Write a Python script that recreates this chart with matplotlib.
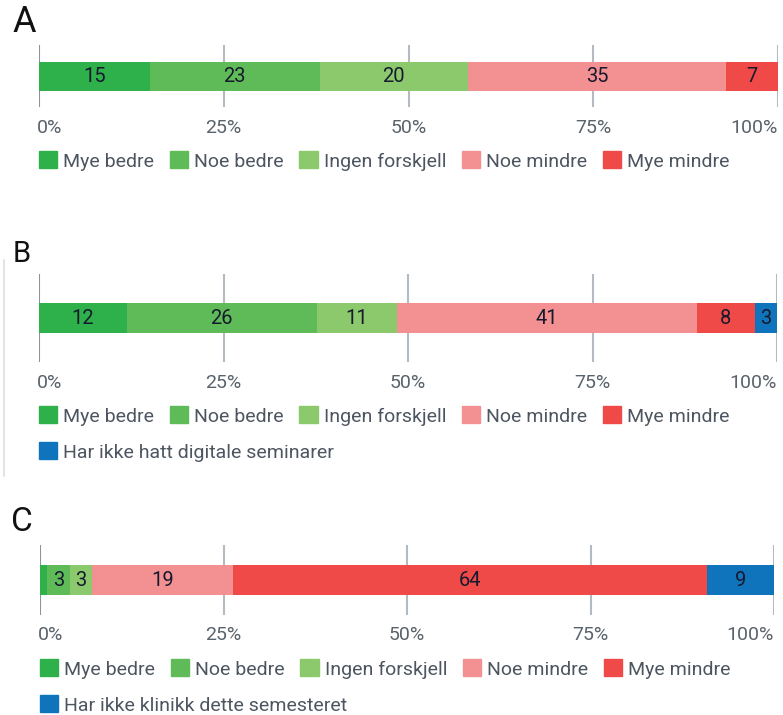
import numpy as np
import matplotlib.pyplot as plt
from matplotlib.patches import Patch
from matplotlib.lines import Line2D

plt.rcParams['font.family'] = ['Roboto', 'DejaVu Sans']

# data
kategorier = ['Mye bedre', 'Noe bedre', 'Ingen forskjell', 'Noe mindre', 'Mye mindre']
farger = ['#2eb04b', '#5fbb57', '#8bc96c', '#f39192', '#ef4a48']
blaa = '#1074bd'

verdier_a = [15, 23, 20, 35, 7]
verdier_b = [12, 26, 11, 41, 8, 3]
verdier_c = [1, 3, 3, 19, 64, 9]
etiketter_c = ['', '3', '3', '19', '64', '9']
ekstra_b = 'Har ikke hatt digitale seminarer'
ekstra_c = 'Har ikke klinikk dette semesteret'

ticks = [0, 25, 50, 75, 100]
tick_labels = ['0%', '25%', '50%', '75%', '100%']

W, H = 783, 715
fig = plt.figure(figsize=(W / 100, H / 100), dpi=100)


def px_axes(x0, x1, y0, y1):
    return fig.add_axes([x0 / W, 1 - y1 / H, (x1 - x0) / W, (y1 - y0) / H])


def panel(ax, verdier, navn, cols, bar_h, labels=None, tick_y=-0.9):
    total = float(sum(verdier))
    andel = np.array(verdier) / total * 100
    left = 0
    for i, (v, a) in enumerate(zip(verdier, andel)):
        ax.barh(0, a, left=left, height=bar_h, color=cols[i], zorder=2)
        txt = str(v) if labels is None else labels[i]
        if txt:
            ax.text(left + a / 2, 0, txt, ha='center', va='center',
                    fontsize=14.5, color='#161a2e', zorder=3)
        left += a
    ax.set_xlim(0, 100)
    ax.set_ylim(-0.5, 0.5)
    for t in ticks:
        ax.axvline(t, color='#8c939b' if t == 0 else '#b3bac2', lw=1.5, zorder=1)
    ax.axis('off')
    for t, lab in zip(ticks, tick_labels):
        ha = 'left' if t == 0 else ('right' if t == 100 else 'center')
        ax.text(t + (-0.3 if t == 0 else 0), tick_y, lab, ha=ha, va='center',
                fontsize=14, color='#5a626b', transform=ax.transData, clip_on=False)
    handles = [Patch(facecolor=c, edgecolor=c, label=n) for n, c in zip(navn, cols)]
    return handles


def legende(ax, handles, y_px):
    x_ax = ax.get_position().x0
    leg = fig.legend(handles=handles, loc='center left',
                     bbox_to_anchor=(x_ax, 1 - y_px / H),
                     ncol=5, frameon=False, fontsize=14, handlelength=0.95,
                     handleheight=0.95, handletextpad=0.3, columnspacing=0.8,
                     labelcolor='#4d5560', borderaxespad=0, borderpad=0)
    return leg


# Panel A
ax_a = px_axes(39, 778, 45, 107)
h_a = panel(ax_a, verdier_a, kategorier, farger, 29 / 62, tick_y=-0.5 - 21 / 62)
legende(ax_a, h_a, 161)
fig.text(12 / W, 1 - 22 / H, 'A', fontsize=26, va='center', ha='left', color='#111111')

# Panel B
ax_b = px_axes(39, 777, 274, 362)
h_b = panel(ax_b, verdier_b, kategorier + [ekstra_b], farger + [blaa], 30 / 88,
            tick_y=-0.5 - 21 / 88)
legende(ax_b, h_b[:5], 416)
legende(ax_b, h_b[5:], 452)
fig.text(13 / W, 1 - 254 / H, 'B', fontsize=21, va='center', ha='left', color='#111111')
fig.add_artist(Line2D([4 / W, 4 / W], [1 - 260 / H, 1 - 476 / H], color='#dde0e4', lw=1.2))

# Panel C
ax_c = px_axes(40, 774, 545, 615)
h_c = panel(ax_c, verdier_c, kategorier + [ekstra_c], farger + [blaa], 30 / 70,
            labels=etiketter_c, tick_y=-0.5 - 20 / 70)
legende(ax_c, h_c[:5], 669)
legende(ax_c, h_c[5:], 705)
fig.text(11 / W, 1 - 522 / H, 'C', fontsize=24, va='center', ha='left', color='#111111')

fig.savefig('out.png', dpi=100, facecolor='white')
